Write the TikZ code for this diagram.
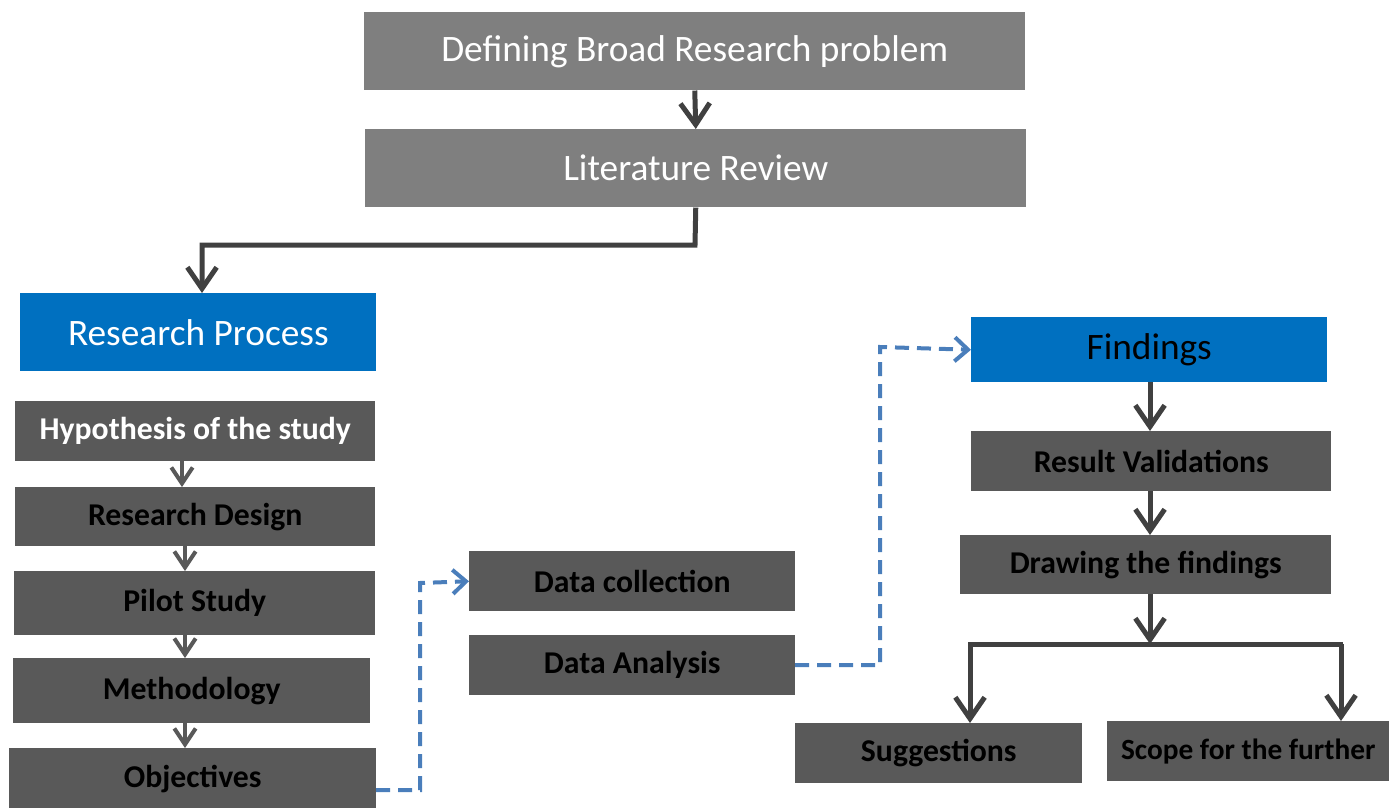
\documentclass[tikz,border=0pt]{standalone}
\usepackage{fontspec}
\setmainfont{Carlito}
\usetikzlibrary{arrows.meta}
\definecolor{topgray}{HTML}{7F7F7F}
\definecolor{darkbox}{HTML}{595959}
\definecolor{linkdark}{HTML}{404040}
\definecolor{procblue}{HTML}{0070C0}
\definecolor{dashblue}{HTML}{4A7EBB}
\newlength\pxu
\setlength\pxu{0.75pt}
\tikzset{
  base/.style={rectangle, inner sep=0pt, anchor=north west},
  boxsize/.style 2 args={minimum width=#1*\pxu, minimum height=#2*\pxu},
  topbox/.style={base, fill=topgray, text=white, font=\fontsize{28}{32}\selectfont},
  bluebox/.style={base, fill=procblue, font=\fontsize{28}{32}\selectfont},
  stepbox/.style={base, fill=darkbox, font=\bfseries\fontsize{23.8}{27}\selectfont},
  mainflow/.style={draw=linkdark, line width=3.75pt, -{Straight Barb[length=16pt, width=22pt]}},
  mainline/.style={draw=linkdark, line width=3.75pt},
  subflow/.style={draw=darkbox, line width=3pt, -{Straight Barb[length=12pt, width=16pt]}},
  dashflow/.style={draw=dashblue, line width=3pt, dash pattern=on 10.5pt off 6pt, -{Straight Barb[length=10pt, width=18pt]}},
}
\begin{document}
\begin{tikzpicture}[x=\pxu, y=-\pxu]
\useasboundingbox (0,0) rectangle (1389,807);

% top of the flow
\node[topbox, boxsize={661}{78}] (define) at (364,12) {Defining Broad Research problem};
\node[topbox, boxsize={661}{78}] (lit) at (365,129) {Literature Review};

% research process column
\node[bluebox, text=white, boxsize={356}{78}] (proc) at (20,293) {Research Process};
\node[stepbox, text=white, boxsize={360}{60}] (hyp) at (15,401) {Hypothesis of the study};
\node[stepbox, boxsize={360}{59}] (design) at (15,487) {Research Design};
\node[stepbox, boxsize={361}{64}] (pilot) at (14,571) {Pilot Study};
\node[stepbox, boxsize={357}{65}] (method) at (13,658) {Methodology};
\node[stepbox, boxsize={367}{62}] (obj) at (9,748) {Objectives};

% data boxes
\node[stepbox, boxsize={326}{60}] (collect) at (469,551) {Data collection};
\node[stepbox, boxsize={326}{60}] (analysis) at (469,635) {Data Analysis};

% findings column
\node[bluebox, boxsize={356}{65}] (find) at (971,317) {Findings};
\node[stepbox, boxsize={360}{60}] (valid) at (971,431) {Result Validations};
\node[stepbox, boxsize={371}{59}] (draw) at (960,535) {Drawing the findings};
\node[stepbox, boxsize={287}{60}] (sugg) at (795,723) {Suggestions};
\node[stepbox, font=\bfseries\fontsize{22}{25}\selectfont, boxsize={282}{60}] (scope) at (1107,721) {Scope for the further};

% solid connectors
\draw[mainflow] (define.south) -- (lit.north);
\coordinate (litdown) at (695,245);
\draw[mainflow] (lit.south) -- (litdown) -| (202,293);

\draw[subflow] (182,461) -- (182,487);
\draw[subflow] (185,546) -- (185,571);
\draw[subflow] (185,635) -- (185,658);
\draw[subflow] (185,723) -- (185,748);

\draw[mainflow] (1150,382) -- (1150,431);
\draw[mainflow] (1150,491) -- (1150,535);
\coordinate (split) at (1150,644);
\draw[mainflow] (1150,594) -- (split);
\draw[mainline] (968,644) -- (1343,644);
\draw[mainflow] (970,644) -- (970,723);
\draw[mainflow] (1341,644) -- (1341,721);

% dashed links
\draw[dashflow] (376,790) -- (420,790) -- (420,583) -- (collect.west);
\draw[dashflow] (795,665) -- (880,665) -- (880,347) -- (find.west);
\end{tikzpicture}
\end{document}
